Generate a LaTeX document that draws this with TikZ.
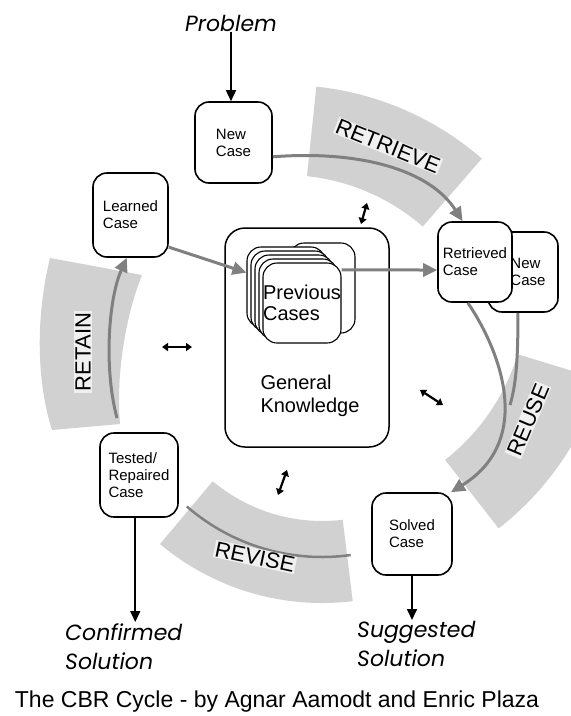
\documentclass[tikz,border=0pt]{standalone}
\usepackage{fontspec}
\setmainfont{Liberation Sans}
\newfontfamily\solfont{Poppins}
\usetikzlibrary{arrows.meta,calc}

\begin{document}
\begin{tikzpicture}[
    x=1pt, y=-1pt,
    casebox/.style={draw, line width=1.6pt, rounded corners=14pt, fill=white, align=left, inner sep=2pt, font=\fontsize{15}{17}\selectfont},
    card/.style={draw, line width=1.1pt, rounded corners=14pt, fill=white, minimum width=78pt, minimum height=80pt, align=left, inner sep=0pt},
    band/.style={fill=black!18},
    phase/.style={fill=black!6, inner sep=1pt, font=\fontsize{22}{22}\selectfont},
    cyclearrow/.style={draw=black!50, line width=3pt, -{Triangle[length=14pt,width=13pt]}},
    outarrow/.style={line width=1.6pt, -{Triangle[length=11pt,width=10pt]}},
    twoway/.style={line width=2.2pt, {Triangle[length=6pt,width=8pt]}-{Triangle[length=6pt,width=8pt]}},
    solution/.style={align=left, inner sep=1pt, font=\solfont\itshape\fontsize{22}{29}\selectfont}
  ]
    \fill[white] (0,0) rectangle (571,716);
    \useasboundingbox (0,0) rectangle (571,716);

    % the four phase bands
    \coordinate (retrievec) at (285,385);
    \coordinate (revisec) at (322,351);
    \coordinate (reusec) at (314,292);
    \fill[band] ($(retrievec)+(-84:210)$) arc[start angle=-84, end angle=-49, radius=210]
      -- ($(retrievec)+(-49:300)$) arc[start angle=-49, end angle=-84, radius=300] -- cycle;
    \fill[band] (50,258) .. controls (36,315) and (36,380) .. (52,430) -- (120,424)
      .. controls (116,380) and (124,320) .. (142,275) -- cycle;
    \fill[band] ($(revisec)+(130:170)$) arc[start angle=130, end angle=83, radius=170]
      -- ($(revisec)+(83:252)$) arc[start angle=83, end angle=130, radius=252] -- cycle;
    \begin{scope}
      \clip (0,0) rectangle (571,716);
      \fill[band] ($(reusec)+(17:213)$) arc[start angle=17, end angle=52, radius=213]
        -- ($(reusec)+(52:300)$) arc[start angle=52, end angle=17, radius=300] -- cycle;
    \end{scope}
    \draw[black!50, line width=2.5pt] ($(revisec)+(131:206)$) arc[start angle=131, end angle=82, radius=206];

    \node[phase, rotate=-22] (retrievelabel) at (388,146) {RETRIEVE};
    \node[phase, rotate=90] (retainlabel) at (83,352) {RETAIN};
    \node[phase, rotate=-12] (reviselabel) at (255,557) {REVISE};
    \node[phase, rotate=67] (reuselabel) at (528,420) {REUSE};

    % knowledge in the middle
    \node[draw, line width=1.5pt, rounded corners=20pt, fill=white, minimum width=164pt, minimum height=219pt] (gk) at (307,337.5) {};
    \node[align=left, font=\fontsize{20}{23}\selectfont] (gktext) at (310,396) {General\\Knowledge};
    \node[card, minimum width=65pt, minimum height=90pt] (card0) at (322.5,288) {};
    \node[card] (card1) at (286,287) {};
    \node[card] (card2) at (290,291) {};
    \node[card] (card3) at (294,295) {};
    \node[card] (card4) at (298,299) {};
    \node[card, font=\fontsize{20}{21}\selectfont] (card5) at (302,303) {Previous\\Cases};

    % cases round the cycle
    \node[solution] (problem) at (231,23) {Problem};
    \node[casebox, minimum width=77pt, minimum height=81pt] (newcase) at (233.5,142.5) {New\\Case};
    \node[casebox, minimum width=75pt, minimum height=84pt] (learned) at (130.5,215) {Learned\\Case};
    \node[casebox, minimum width=70pt, minimum height=80pt] (newcase2) at (523,272) {\hspace*{10pt}New\\\hspace*{10pt}Case};
    \node[casebox, minimum width=74pt, minimum height=80pt] (retrieved) at (475,262) {Retrieved\\Case};
    \node[casebox, minimum width=78pt, minimum height=84pt] (tested) at (139,475) {Tested/\\Repaired\\Case};
    \node[casebox, minimum width=80pt, minimum height=82pt] (solved) at (412,534) {Solved\\Case};
    \node[solution, anchor=north west] (confirmed) at (64,622) {Confirmed\\Solution};
    \node[solution, anchor=north west] (suggested) at (356,620) {Suggested\\Solution};
    \node[font=\fontsize{23}{23}\selectfont] (caption) at (277,702) {The CBR Cycle - by Agnar Aamodt and Enric Plaza};

    \draw[outarrow] (problem.south) -- (problem.south |- newcase.north);
    \draw[outarrow] (tested.265) -- (tested.265 |- confirmed.north);
    \draw[outarrow] (solved.south) -- (solved.south |- suggested.north);

    \draw[cyclearrow] (newcase.-20) .. controls (360,150) and (430,170) .. (retrieved.107);
    \draw[cyclearrow] (learned.-40) -- (card1.160);
    \draw[cyclearrow] (card5.40) -- (retrieved.192);
    \draw[black!50, line width=3pt] (newcase2.-97) .. controls (518,360) and (516,385) .. (510,405);
    \draw[cyclearrow] (retrieved.-100) .. controls (500,350) and (535,440) .. (solved.47);
    \coordinate (retainstart) at (117,418);
    \draw[cyclearrow] (retainstart) .. controls (104,370) and (108,300) .. (learned.265);

    % links between the knowledge and the cycle
    \coordinate (topa) at (367,203);
    \coordinate (topb) at (361,224);
    \coordinate (lefta) at (162,347);
    \coordinate (leftb) at (192,347);
    \coordinate (righta) at (420,390);
    \coordinate (rightb) at (443,405);
    \coordinate (bottoma) at (287,470);
    \coordinate (bottomb) at (278,495);
    \draw[twoway] (topa) -- (topb);
    \draw[twoway] (lefta) -- (leftb);
    \draw[twoway] (righta) -- (rightb);
    \draw[twoway] (bottoma) -- (bottomb);
  \end{tikzpicture}
\end{document}
